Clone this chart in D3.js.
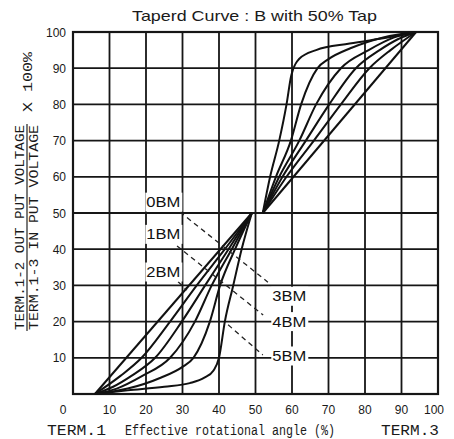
<!DOCTYPE html>
<html lang="en">
<head>
    <meta charset="UTF-8">
    <title>Taperd Curve B with 50% Tap</title>

    <script src="https://d3js.org/d3.v7.min.js"></script>

    <style>
        body {
            margin: 0;
            background: #ffffff;
        }
        .tick_text {
            font-family: "Liberation Sans", Arial, sans-serif;
            font-size: 12px;
            fill: #1a1a1a;
        }
        .mono_text {
            font-family: "Liberation Mono", "Courier New", monospace;
            fill: #1a1a1a;
            white-space: pre;
        }
        .bm_text {
            font-family: "Liberation Sans", Arial, sans-serif;
            font-size: 14px;
            fill: #111111;
        }
    </style>
</head>

<body>
<svg width="454" height="439"></svg>

<script>
    // tick labels on both axes (%)
    const xTicks = [0, 10, 20, 30, 40, 50, 60, 70, 80, 90, 100];
    const yTicks = [0, 10, 20, 30, 40, 50, 60, 70, 80, 90, 100];

    const curveNames = ["0BM", "1BM", "2BM", "3BM", "4BM", "5BM"];

    // lower half: rotation angle (%) vs output (%) up to the 50% tap
    const lower_0BM = [[6, 0], [49, 50]];
    const lower_1BM = [[6, 0], [13, 5], [18.8, 10], [26.6, 20], [33.9, 30], [41.6, 40], [49, 50]];
    const lower_2BM = [[6, 0], [11, 2], [16, 5], [22.5, 10], [29.8, 20], [36.2, 30], [42.6, 40], [49, 50]];
    const lower_3BM = [[6, 0], [12, 1.5], [19, 5], [26.6, 10], [33.4, 20], [38, 30], [43.5, 40], [49, 50]];
    const lower_4BM = [[6, 0], [15, 1.5], [24, 4.5], [30, 7.5], [33, 10], [37.5, 20], [40.3, 30], [44.4, 40], [49, 50]];
    const lower_5BM = [[6, 0], [15, 1], [25, 2], [32, 3], [36, 4.5], [38.5, 6.5], [40, 10], [41.6, 20], [43.9, 30], [46.2, 40], [49, 50]];

    // upper half: from the tap up to 100%
    const upper_0BM = [[52, 50], [94, 100]];
    const upper_1BM = [[52, 50], [58.5, 60], [66, 70], [73.4, 80], [81.2, 90], [87, 95], [94, 100]];
    const upper_2BM = [[52, 50], [57.4, 60], [63.8, 70], [70.2, 80], [77.5, 90], [84, 95], [89, 98], [94, 100]];
    const upper_3BM = [[52, 50], [56.5, 60], [62, 70], [66.6, 80], [73.4, 90], [81, 95], [88, 98.5], [94, 100]];
    const upper_4BM = [[52, 50], [55.6, 60], [59.7, 70], [62.5, 80], [67, 90], [70, 92.5], [76, 95.5], [85, 98.5], [94, 100]];
    const upper_5BM = [[52, 50], [54, 60], [56.5, 70], [58.5, 80], [59.8, 88], [62, 92.6], [66.6, 95], [75.8, 96.8], [86.9, 98.6], [94, 100]];

    // curve labels (x start, y centre) in chart units
    const bmLabels = [
        ["0BM", 20.1, 53], ["1BM", 20.1, 44.1], ["2BM", 20.1, 33.7],
        ["3BM", 54.6, 27], ["4BM", 54.6, 20], ["5BM", 54.6, 10.5]
    ];
    // dashed leaders [x1, y1, x2, y2] in chart units
    const leaders = [
        [29.3, 50.3, 53.4, 30.9],
        [28.5, 40.9, 52.1, 21.8],
        [28.8, 31.0, 31.2, 28.7],
        [42.5, 19.1, 52.0, 10.8]
    ];

    const curves = [
        lower_0BM, lower_1BM, lower_2BM, lower_3BM, lower_4BM, lower_5BM,
        upper_0BM, upper_1BM, upper_2BM, upper_3BM, upper_4BM, upper_5BM
    ];

    let svg = d3.select("svg");

    const x = d3.scaleLinear().domain([0, 100]).range([73, 438]);
    const y = d3.scaleLinear().domain([0, 100]).range([394, 32]);

    // grid
    let grid = svg.append("g").attr("stroke", "#161616").attr("stroke-width", 1.8);
    grid.selectAll(".vx").data(xTicks.slice(1, -1)).enter().append("line")
        .attr("x1", d => x(d)).attr("x2", d => x(d))
        .attr("y1", y(0)).attr("y2", y(100));
    grid.selectAll(".hy").data(yTicks.slice(1, -1)).enter().append("line")
        .attr("x1", x(0)).attr("x2", x(100))
        .attr("y1", d => y(d)).attr("y2", d => y(d));

    svg.append("rect")
        .attr("x", x(0)).attr("y", y(100))
        .attr("width", x(100) - x(0)).attr("height", y(0) - y(100))
        .attr("fill", "none").attr("stroke", "#161616").attr("stroke-width", 2.2);

    // curves
    const line = d3.line()
        .x(d => x(d[0]))
        .y(d => y(d[1]))
        .curve(d3.curveMonotoneX);

    svg.append("g").selectAll("path")
        .data(curves).enter().append("path")
        .attr("d", d => line(d))
        .attr("fill", "none")
        .attr("stroke", "#111")
        .attr("stroke-width", 2)
        .attr("stroke-linejoin", "round");

    // leaders
    svg.append("g").selectAll("line")
        .data(leaders).enter().append("line")
        .attr("x1", d => x(d[0])).attr("y1", d => y(d[1]))
        .attr("x2", d => x(d[2])).attr("y2", d => y(d[3]))
        .attr("stroke", "#222").attr("stroke-width", 1.3)
        .attr("stroke-dasharray", "5,4");

    // BM labels on white boxes
    let bm = svg.append("g").selectAll("g")
        .data(bmLabels).enter().append("g")
        .attr("transform", d => "translate(" + x(d[1]) + "," + y(d[2]) + ")");
    bm.append("rect")
        .attr("x", -1).attr("y", -9.5).attr("width", 37).attr("height", 19)
        .attr("fill", "#ffffff");
    bm.append("text").attr("class", "bm_text")
        .attr("x", 0).attr("y", 5)
        .attr("textLength", 34).attr("lengthAdjust", "spacingAndGlyphs")
        .text(d => d[0]);

    // tick labels
    svg.append("g").selectAll("text")
        .data(yTicks.slice(1)).enter().append("text")
        .attr("class", "tick_text")
        .attr("text-anchor", "end")
        .attr("x", 66).attr("y", d => y(d) + 4.5)
        .text(d => d);

    svg.append("g").selectAll("text")
        .data(xTicks).enter().append("text")
        .attr("class", "tick_text")
        .attr("text-anchor", "middle")
        .attr("x", d => x(d) + (d === 0 ? -10 : d === 100 ? -4 : 0))
        .attr("y", 414)
        .text(d => d);

    // title
    svg.append("text")
        .attr("x", 132).attr("y", 21)
        .attr("textLength", 245).attr("lengthAdjust", "spacingAndGlyphs")
        .style("font-family", "'Liberation Sans', Arial, sans-serif")
        .style("font-size", "15px").style("fill", "#1a1a1a")
        .text("Taperd Curve : B with 50% Tap");

    // x axis caption
    let cap = svg.append("g").attr("class", "mono_text").style("font-size", "14px");
    cap.append("text").attr("x", 47).attr("y", 435)
        .attr("textLength", 59).attr("lengthAdjust", "spacingAndGlyphs").text("TERM.1");
    cap.append("text").attr("x", 125).attr("y", 435)
        .attr("textLength", 210).attr("lengthAdjust", "spacingAndGlyphs").text("Effective rotational angle (%)");
    cap.append("text").attr("x", 381).attr("y", 435)
        .attr("textLength", 58).attr("lengthAdjust", "spacingAndGlyphs").text("TERM.3");

    // y axis caption (fraction, rotated)
    let ycap = svg.append("g").attr("class", "mono_text").style("font-size", "13px");
    ycap.append("text").attr("transform", "translate(24,0) rotate(-90)")
        .attr("x", -330).attr("y", 0)
        .attr("textLength", 205).attr("lengthAdjust", "spacingAndGlyphs")
        .text("TERM.1-2 OUT PUT VOLTAGE");
    ycap.append("text").attr("transform", "translate(38,0) rotate(-90)")
        .attr("x", -330).attr("y", 0)
        .attr("textLength", 205).attr("lengthAdjust", "spacingAndGlyphs")
        .text("TERM.1-3 IN  PUT VOLTAGE");
    ycap.append("text").attr("transform", "translate(32,0) rotate(-90)")
        .attr("x", -112).attr("y", 0)
        .attr("textLength", 60).attr("lengthAdjust", "spacingAndGlyphs")
        .text("X  100%");
    svg.append("line")
        .attr("x1", 27).attr("x2", 27).attr("y1", 124).attr("y2", 331)
        .attr("stroke", "#222").attr("stroke-width", 1.2);
</script>
</body>
</html>
